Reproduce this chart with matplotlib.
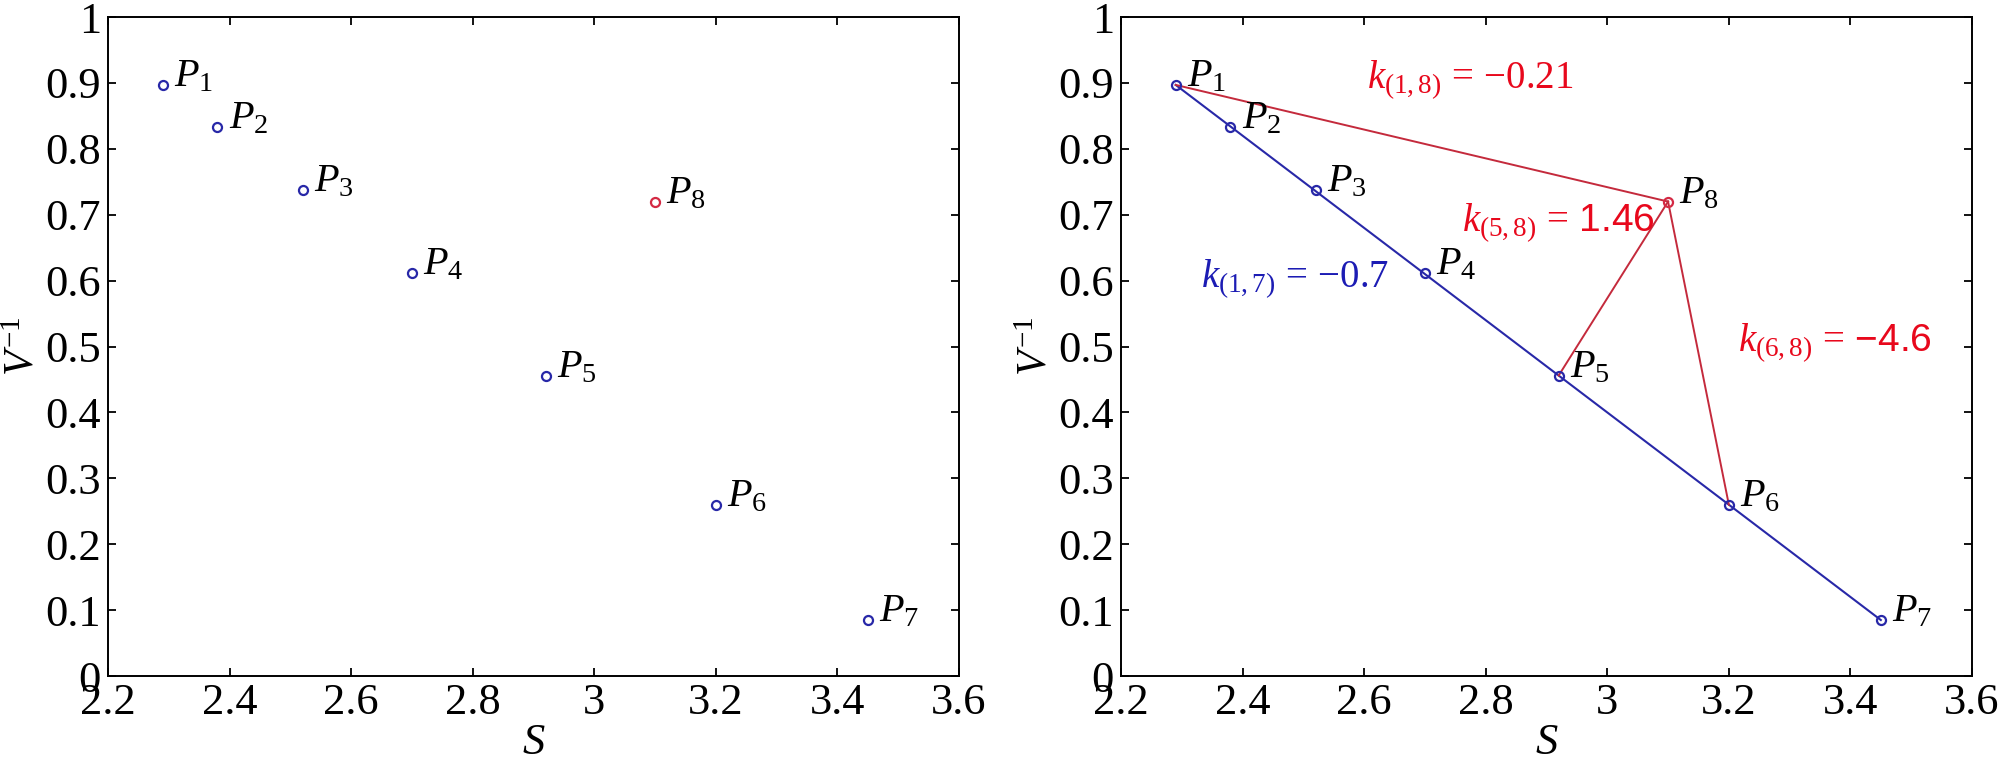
import matplotlib
matplotlib.use("Agg")
import matplotlib.pyplot as plt

plt.rcParams["font.family"] = ["Liberation Serif", "DejaVu Serif"]
plt.rcParams["mathtext.fontset"] = "custom"
plt.rcParams["mathtext.rm"] = "Liberation Serif"
plt.rcParams["mathtext.it"] = "Liberation Serif:italic"
plt.rcParams["mathtext.sf"] = "Liberation Sans"

# points P1..P8
labels = ["$P_1$", "$P_2$", "$P_3$", "$P_4$", "$P_5$", "$P_6$", "$P_7$", "$P_8$"]
s_vals = [2.29, 2.38, 2.52, 2.70, 2.92, 3.20, 3.45, 3.10]
v_inv = [0.897, 0.833, 0.737, 0.611, 0.456, 0.260, 0.085, 0.720]

# red segments (index pairs) to P8
red_pairs = [(0, 7), (4, 7), (5, 7)]

# slope annotations: text, x, y, colour
k_texts = [r"$k_{(1,8)}\,=\,{-}0.21$", r"$k_{(5,8)}\,=\,\mathsf{1.46}$",
           r"$k_{(1,7)}\,=\,{-}0.7$", r"$k_{(6,8)}\,=\,\mathsf{{-}4.6}$"]
k_x = [2.605, 2.761, 2.332, 3.215]
k_y = [0.891, 0.674, 0.590, 0.492]
k_col = ["red", "red", "blue", "red"]

xticks = [2.2, 2.4, 2.6, 2.8, 3.0, 3.2, 3.4, 3.6]
xtick_labels = ["2.2", "2.4", "2.6", "2.8", "3", "3.2", "3.4", "3.6"]
yticks = [0, 0.1, 0.2, 0.3, 0.4, 0.5, 0.6, 0.7, 0.8, 0.9, 1.0]
ytick_labels = ["0", "0.1", "0.2", "0.3", "0.4", "0.5", "0.6", "0.7", "0.8", "0.9", "1"]

BLUE = "#2828a8"
BLUE_TXT = "#1c1cb4"
RED_LINE = "#c42a3c"
RED_TXT = "#e8081c"
RED_MK = "#d42a44"
colours = {"red": RED_TXT, "blue": BLUE_TXT}


def style_axes(ax):
    ax.set_xlim(2.2, 3.6)
    ax.set_ylim(0, 1)
    ax.set_xticks(xticks)
    ax.set_xticklabels(xtick_labels)
    ax.set_yticks(yticks)
    ax.set_yticklabels(ytick_labels)
    ax.tick_params(direction="in", top=True, right=True, length=6, width=1.3,
                   labelsize=32, pad=5)
    for sp in ax.spines.values():
        sp.set_linewidth(1.4)
    ax.set_xlabel("$S$", fontsize=32, labelpad=0)
    ax.set_ylabel("$V^{-1}$", fontsize=30, labelpad=2)


def label_points(ax):
    for lab, x, y in zip(labels, s_vals, v_inv):
        ax.annotate(lab, (x, y), xytext=(8, -1), textcoords="offset points",
                    fontsize=29, va="baseline", ha="left")


fig = plt.figure(figsize=(20, 7.65), dpi=100)
ax1 = fig.add_axes([0.054, 0.1163, 0.4255, 0.8614])
ax2 = fig.add_axes([0.5605, 0.1163, 0.4255, 0.8614])

# left panel: points only
ax1.plot(s_vals[:7], v_inv[:7], "o", ms=6.5, mfc="none", mec=BLUE, mew=1.6)
ax1.plot(s_vals[7], v_inv[7], "o", ms=6.5, mfc="none", mec=RED_MK, mew=1.6)
style_axes(ax1)
label_points(ax1)

# right panel: blue line P1..P7, red lines to P8
ax2.plot([s_vals[0], s_vals[6]], [v_inv[0], v_inv[6]], "-", color=BLUE, lw=1.5)
for i, j in red_pairs:
    ax2.plot([s_vals[i], s_vals[j]], [v_inv[i], v_inv[j]], "-", color=RED_LINE, lw=1.4)
ax2.plot(s_vals[:7], v_inv[:7], "o", ms=6.5, mfc="none", mec=BLUE, mew=1.6)
ax2.plot(s_vals[7], v_inv[7], "o", ms=6.5, mfc="none", mec=RED_MK, mew=1.6)
style_axes(ax2)
label_points(ax2)
for t, x, y, c in zip(k_texts, k_x, k_y, k_col):
    ax2.text(x, y, t, color=colours[c], fontsize=28, ha="left", va="baseline")

fig.savefig("out.png", dpi=100)
plt.close(fig)
